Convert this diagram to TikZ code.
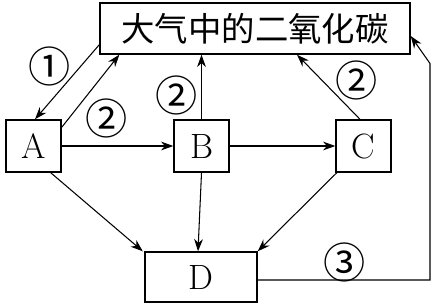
\documentclass[tikz,border=0pt]{standalone}
\usepackage{fontspec}
\newfontfamily\cjk{Noto Sans CJK SC}
\usetikzlibrary{arrows.meta}
\tikzset{
  box/.style = {draw, thick, minimum width=1.1cm, minimum height=1.04cm, inner sep=0pt, font=\fontsize{20}{20}\selectfont},
  flow/.style = {-{Stealth[length=7pt,width=5pt]}, semithick},
  num/.style = {font=\cjk\fontsize{24}{24}\selectfont, inner sep=0pt}
}
\begin{document}
\begin{tikzpicture}
      \useasboundingbox (0,0) rectangle (8.7,6.12);
      % Nodes
      \node[box, minimum width=6.2cm, minimum height=1.02cm, font=\cjk\fontsize{19}{19}\selectfont] (co2) at (5.1,5.55) {大气中的二氧化碳};
      \node[box] (A) at (0.67,3.2) {A};
      \node[box] (B) at (4.03,3.2) {B};
      \node[box] (C) at (7.27,3.2) {C};
      \node[box, minimum width=2.24cm, minimum height=1.0cm] (D) at (4.02,0.58) {D};

      % Edges
      \draw[flow] ([yshift=0.2cm]co2.south west) -- ([xshift=0.03cm]A.north);
      \draw[flow] ([yshift=-0.16cm]A.north east) -- ([xshift=0.4cm]co2.south west);
      \draw[flow] (B.north) -- (B.north |- co2.south);
      \draw[flow] ([xshift=-0.07cm]C.north) -- ([xshift=0.84cm]co2.south);
      \draw[flow] (A.east) -- (B.west);
      \draw[flow] (B.east) -- (C.west);
      \draw[flow] ([xshift=-0.22cm]A.south east) -- ([xshift=-0.03cm]D.north west);
      \draw[flow] (B.south) -- ([xshift=-0.06cm]D.north);
      \draw[flow] ([xshift=0.03cm]C.south west) -- (D.north east);
      \draw[flow] ([yshift=-0.06cm]D.east) -| (8.6,4.85) -- ([yshift=-0.15cm]co2.east);

      % Labels
      \node[num] (l1) at (1.0,4.8) {①};
      \node[num] (l2a) at (2.14,3.76) {②};
      \node[num] (l2b) at (3.54,4.22) {②};
      \node[num] (l2c) at (7.14,4.52) {②};
      \node[num] (l3) at (6.9,0.88) {③};
\end{tikzpicture}
\end{document}
